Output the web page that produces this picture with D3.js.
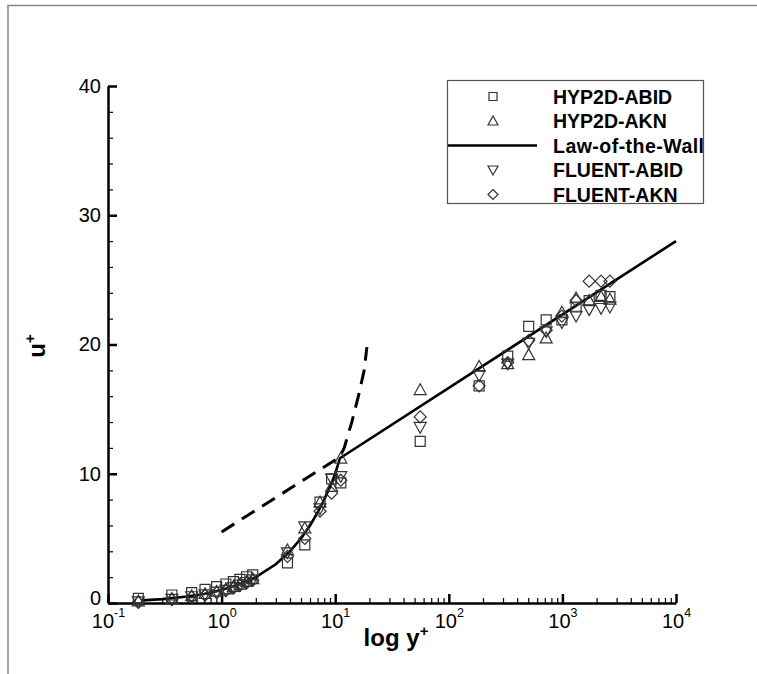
<html>
<head>
<style>
  body { margin: 0; background: #fff; }
  text { font-family: "Liberation Sans", Arial, sans-serif; fill: #000; }
  .mark { fill: none; stroke: #333; stroke-width: 1.2px; }
</style>
</head>
<body>
<script src="https://cdn.jsdelivr.net/npm/d3@7"></script>
<script>
var width = 757, height = 674;

// y+ stations shared by the four data sets
var yPlus = [0.185, 0.365, 0.545, 0.715, 0.905, 1.09, 1.27, 1.45, 1.66, 1.88,
             3.8, 5.4, 7.35, 9.3, 11.2,
             56, 185, 330, 505, 720, 990, 1320, 1720, 2190, 2620];
var hyp2dAbid  = [0.36, 0.62, 0.80, 1.06, 1.26, 1.47, 1.65, 1.83, 2.03, 2.17,
                  3.1, 4.5, 7.8, 9.6, 9.3,
                  12.5, 16.8, 19.1, 21.4, 21.9, 21.9, 22.9, 23.4, 23.8, 23.7];
var hyp2dAkn   = [0.15, 0.35, 0.55, 0.72, 0.90, 1.08, 1.27, 1.45, 1.65, 1.87,
                  4.1, 5.8, 7.8, 9.0, 11.2,
                  16.5, 18.3, 18.5, 19.2, 20.5, 22.5, 23.6, 23.4, 23.7, 23.5];
var fluentAbid = [0.10, 0.30, 0.50, 0.65, 0.85, 1.00, 1.20, 1.40, 1.60, 1.80,
                  3.9, 5.9, 7.3, 9.6, 9.8,
                  13.6, 17.6, 18.5, 20.1, 21.0, 21.7, 22.2, 22.7, 22.8, 22.9];
var fluentAkn  = [0.05, 0.25, 0.45, 0.60, 0.80, 0.95, 1.15, 1.35, 1.55, 1.75,
                  3.6, 5.0, 7.1, 8.5, 9.5,
                  14.4, 16.8, 18.6, 20.3, 21.1, 22.2, 23.4, 24.9, 24.9, 24.9];

// law of the wall (solid) and the continued branches (dashed)
var lawY  = [0.2, 0.3, 0.5, 0.7, 1, 1.5, 2, 3, 4, 5, 6, 7, 8, 9, 10, 11, 10000];
var lawU  = [0.2, 0.3, 0.5, 0.7, 1, 1.5, 2, 3, 4, 5, 6, 7, 8, 9, 10, 11.2, 28];
var dashY = [1, 11, 12, 14, 16, 18, 19];
var dashU = [5.5, 11.3, 12, 14, 16, 18, 19.8];

var seriesNames = ["HYP2D-ABID", "HYP2D-AKN", "Law-of-the-Wall", "FLUENT-ABID", "FLUENT-AKN"];
var xMajor = [-1, 0, 1, 2, 3, 4];
var yMajor = [0, 10, 20, 30, 40];

var svg = d3.select("body").append("svg")
    .attr("width", width)
    .attr("height", height);

// outer frame
svg.append("path")
    .attr("d", "M8," + height + "V5.5H" + width)
    .attr("fill", "none")
    .attr("stroke", "#888")
    .attr("stroke-width", 1.5);

var x = d3.scaleLog().domain([0.1, 10000]).range([108, 676]);
var y = d3.scaleLinear().domain([0, 40]).range([603, 86]);

// minor ticks
var xMinor = [];
xMajor.slice(0, -1).forEach(function(e){
  for (var k = 2; k <= 9; k++) xMinor.push(k * Math.pow(10, e));
});
var yMinor = d3.range(0, 41, 2).filter(function(d){ return d % 10 != 0; });

svg.append("g")
    .attr("transform", "translate(0,603)")
    .call(d3.axisBottom(x).tickValues(xMinor).tickSizeInner(-5).tickSizeOuter(0).tickFormat(""))
    .call(function(g){ g.select(".domain").remove(); g.selectAll("line").attr("stroke-width", 1.2); });

svg.append("g")
    .attr("transform", "translate(108,0)")
    .call(d3.axisLeft(y).tickValues(yMinor).tickSizeInner(-5).tickSizeOuter(0).tickFormat(""))
    .call(function(g){ g.select(".domain").remove(); g.selectAll("line").attr("stroke-width", 1.2); });

// major axes
var xAxis = svg.append("g")
    .attr("transform", "translate(0,603)")
    .call(d3.axisBottom(x)
      .tickValues(xMajor.map(function(e){ return Math.pow(10, e); }))
      .tickSizeInner(-9).tickSizeOuter(0).tickPadding(6).tickFormat(""));
xAxis.selectAll(".tick text").each(function(d){
  var t = d3.select(this)
      .attr("font-size", 20)
      .attr("dy", "0.95em");
  t.append("tspan").text("10");
  t.append("tspan").attr("font-size", 12.5).attr("dy", "-0.85em").text(Math.round(Math.log10(d)));
});

var yAxis = svg.append("g")
    .attr("transform", "translate(108,0)")
    .call(d3.axisLeft(y).tickValues(yMajor).tickSizeInner(-9).tickSizeOuter(0).tickPadding(7));
yAxis.selectAll(".tick text")
    .attr("font-size", 20)
    .attr("dy", function(d){ return d === 0 ? "0.05em" : "0.32em"; });

svg.selectAll(".domain").attr("stroke-width", 2.5);
xAxis.selectAll(".tick line").attr("stroke-width", 2.5);
yAxis.selectAll(".tick line").attr("stroke-width", 2.5);
xAxis.attr("font-family", null);
yAxis.attr("font-family", null);

// axis titles
var xt = svg.append("text")
    .attr("x", 396).attr("y", 646)
    .attr("text-anchor", "middle")
    .attr("font-size", 24).attr("font-weight", "bold");
xt.append("tspan").text("log y");
xt.append("tspan").attr("font-size", 15).attr("dy", "-0.7em").text("+");

var yt = svg.append("text")
    .attr("transform", "translate(45,346) rotate(-90)")
    .attr("text-anchor", "middle")
    .attr("font-size", 24).attr("font-weight", "bold");
yt.append("tspan").text("u");
yt.append("tspan").attr("font-size", 15).attr("dy", "-0.7em").text("+");

// curves
var line = d3.line()
    .x(function(d){ return x(d[0]); })
    .y(function(d){ return y(d[1]); });

svg.append("path")
    .datum(d3.zip(dashY, dashU))
    .attr("d", line)
    .attr("fill", "none")
    .attr("stroke", "#000")
    .attr("stroke-width", 3)
    .attr("stroke-dasharray", "15,9");

svg.append("path")
    .datum(d3.zip(lawY, lawU))
    .attr("d", line)
    .attr("fill", "none")
    .attr("stroke", "#000")
    .attr("stroke-width", 2.6);

// marker shapes
function square(s){ return "M" + (-s) + "," + (-s) + "h" + 2 * s + "v" + 2 * s + "h" + (-2 * s) + "Z"; }
function triUp(s){ return "M0," + (-s) + "L" + s + "," + (s * 0.8) + "H" + (-s) + "Z"; }
function triDown(s){ return "M0," + s + "L" + s + "," + (-s * 0.8) + "H" + (-s) + "Z"; }
function diamond(s){ return "M0," + (-s) + "L" + s + ",0L0," + s + "L" + (-s) + ",0Z"; }

var series = [
  { vals: hyp2dAbid,  shape: square(5) },
  { vals: hyp2dAkn,   shape: triUp(6) },
  { vals: fluentAbid, shape: triDown(6) },
  { vals: fluentAkn,  shape: diamond(6) }
];

series.forEach(function(s){
  svg.append("g").selectAll("path")
      .data(d3.zip(yPlus, s.vals))
    .enter().append("path")
      .attr("class", "mark")
      .attr("transform", function(d){ return "translate(" + x(d[0]) + "," + y(d[1]) + ")"; })
      .attr("d", s.shape);
});

// legend
var legend = svg.append("g");
legend.append("rect")
    .attr("x", 447.5).attr("y", 80.5)
    .attr("width", 256).attr("height", 123)
    .attr("fill", "#fff")
    .attr("stroke", "#555")
    .attr("stroke-width", 1.2);

var legendShapes = [square(4), triUp(5), null, triDown(5), diamond(5)];
seriesNames.forEach(function(name, i){
  var cy = 96.5 + i * 24.5;
  if (legendShapes[i]) {
    legend.append("path")
        .attr("class", "mark")
        .attr("transform", "translate(493," + cy + ")")
        .attr("d", legendShapes[i]);
  } else {
    legend.append("line")
        .attr("x1", 448).attr("x2", 537)
        .attr("y1", cy).attr("y2", cy)
        .attr("stroke", "#000")
        .attr("stroke-width", 2.6);
  }
  legend.append("text")
      .attr("x", 553).attr("y", cy)
      .attr("dy", "0.36em")
      .attr("font-size", 19.5)
      .attr("font-weight", "bold")
      .attr("textLength", i === 2 ? 151 : null)
      .text(name);
});
</script>
</body>
</html>
